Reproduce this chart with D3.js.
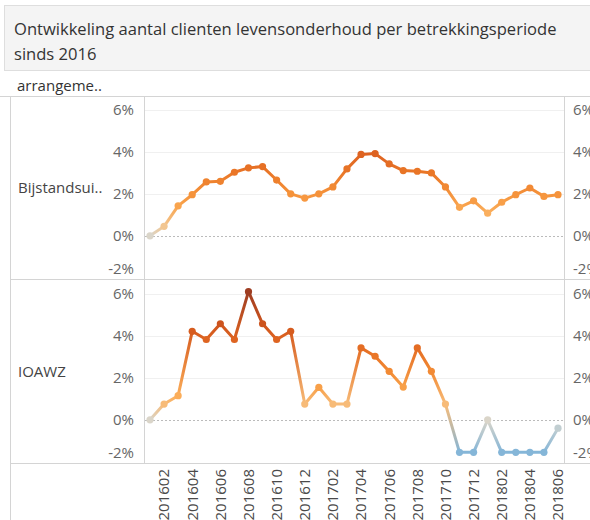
<!DOCTYPE html>
<html>
<head>
<meta charset="utf-8">
<script src="https://cdn.jsdelivr.net/npm/d3@7"></script>
<style>
  body { margin: 0; background: #fff; overflow: hidden; }
  svg { display: block; font-family: "Open Sans", sans-serif; }
</style>
</head>
<body>
<svg width="590" height="520"></svg>
<script>
// data (percent change per period)
var periods = ['201601','201602','201603','201604','201605','201606','201607','201608','201609','201610','201611','201612',
               '201701','201702','201703','201704','201705','201706','201707','201708','201709','201710','201711','201712',
               '201801','201802','201803','201804','201805','201806'];
var bijstand = [0, 0.45, 1.43, 1.96, 2.57, 2.6, 3.03, 3.24, 3.3, 2.66, 2.0, 1.8,
                2.0, 2.33, 3.19, 3.88, 3.92, 3.43, 3.11, 3.08, 3.0, 2.33, 1.36, 1.67,
                1.08, 1.6, 1.96, 2.28, 1.88, 1.96];
var ioawz = [0, 0.75, 1.15, 4.22, 3.83, 4.58, 3.83, 6.11, 4.58, 3.83, 4.22, 0.75,
             1.55, 0.75, 0.75, 3.43, 3.03, 2.31, 1.56, 3.43, 2.31, 0.75, -1.55, -1.55,
             0, -1.55, -1.55, -1.55, -1.55, -0.4];
var rowNames = ['Bijstandsui..', 'IOAWZ'];
var yTicks = [-2, 0, 2, 4, 6];
var xTickLabels = periods.filter(function(d, i){ return i % 2 == 1; });
var titleLines = ['Ontwikkeling aantal clienten levensonderhoud per betrekkingsperiode', 'sinds 2016'];
var colLabel = 'arrangeme..';

var svg = d3.select('svg');
var defs = svg.append('defs');
var lineCol = '#d4d4d4';

// title box
svg.append('rect').attr('x', 4.5).attr('y', 5.5).attr('width', 590).attr('height', 65)
  .attr('fill', '#f4f4f4').attr('stroke', '#dedede');
var title = svg.append('g');
title.selectAll('text').data(titleLines).enter().append('text')
  .attr('x', 14).attr('y', function(d, i){ return 35 + i * 25; })
  .attr('fill', '#333').style('font-size', '16px')
  .text(function(d){ return d; });
// fit the first line to the reference width
var w = title.select('text').node().getComputedTextLength();
title.selectAll('text').style('font-size', (16 * 543 / w) + 'px');

svg.append('text').attr('x', 17).attr('y', 91).attr('fill', '#333')
  .style('font-size', '15px').text(colLabel);

// colour: diverging orange-blue, centered at 0
var color = d3.scaleLinear()
  .domain([-6.11, -2, -1, 0, 0.5, 1.2, 2, 3, 4, 5, 6.11])
  .range(['#2b5c8a', '#72acd3', '#9cc3de', '#dad5c9', '#f5c48b', '#fbab55', '#f5923a', '#ea7727', '#dc6020', '#c24c1c', '#9e3d22']);

var x = d3.scalePoint().domain(periods).range([150, 558]);

var panels = [
  { name: rowNames[0], values: bijstand, top: 97, bottom: 279 },
  { name: rowNames[1], values: ioawz, top: 281, bottom: 463 }
];

panels.forEach(function(p, pi){
  var y = d3.scaleLinear().domain([-2.06, 6.62]).range([p.bottom, p.top]);
  var g = svg.append('g');

  // gridlines
  g.selectAll('.grid').data(yTicks.filter(function(t){ return t > 0; })).enter().append('line')
    .attr('x1', 145).attr('x2', 564)
    .attr('y1', function(d){ return Math.round(y(d)) + 0.5; })
    .attr('y2', function(d){ return Math.round(y(d)) + 0.5; })
    .attr('stroke', '#f0f0f0');
  g.append('line').attr('x1', 145).attr('x2', 564)
    .attr('y1', Math.round(y(0)) + 0.5).attr('y2', Math.round(y(0)) + 0.5)
    .attr('stroke', '#bbb').attr('stroke-dasharray', '2,2');

  // tick labels left and right
  [134, 573].forEach(function(tx, side){
    g.selectAll('.tick' + side).data(yTicks).enter().append('text')
      .attr('x', tx)
      .attr('y', function(d){ return Math.min(y(d), p.bottom - 10); })
      .attr('dy', '0.36em')
      .attr('text-anchor', side == 0 ? 'end' : 'start')
      .attr('fill', '#666').style('font-size', '15px')
      .text(function(d){ return d + '%'; });
  });

  // row header
  g.append('text').attr('x', 18).attr('y', (p.top + p.bottom) / 2).attr('dy', '0.36em')
    .attr('fill', '#444').style('font-size', '15px').text(p.name);

  // line segments with colour gradient between points
  var segs = d3.pairs(p.values.map(function(v, i){ return { v: v, x: x(periods[i]), y: y(v) }; }));
  segs.forEach(function(s, i){
    var id = 'grad' + pi + '_' + i;
    var gr = defs.append('linearGradient').attr('id', id).attr('gradientUnits', 'userSpaceOnUse')
      .attr('x1', s[0].x).attr('y1', s[0].y).attr('x2', s[1].x).attr('y2', s[1].y);
    gr.append('stop').attr('offset', 0).attr('stop-color', color(s[0].v));
    gr.append('stop').attr('offset', 1).attr('stop-color', color(s[1].v));
  });
  g.selectAll('.seg').data(segs).enter().append('line')
    .attr('x1', function(d){ return d[0].x; }).attr('y1', function(d){ return d[0].y; })
    .attr('x2', function(d){ return d[1].x; }).attr('y2', function(d){ return d[1].y; })
    .attr('stroke', function(d, i){ return 'url(#grad' + pi + '_' + i + ')'; })
    .attr('stroke-width', 3).attr('stroke-linecap', 'round');

  g.selectAll('circle').data(p.values).enter().append('circle')
    .attr('cx', function(d, i){ return x(periods[i]); })
    .attr('cy', function(d){ return y(d); })
    .attr('r', 3.6)
    .attr('fill', function(d){ return color(d); });

  // panel bottom line
  svg.append('line').attr('x1', 10).attr('x2', 590)
    .attr('y1', p.bottom + 0.5).attr('y2', p.bottom + 0.5).attr('stroke', lineCol);
});

// frame lines
svg.append('line').attr('x1', 0).attr('x2', 590).attr('y1', 96.5).attr('y2', 96.5).attr('stroke', lineCol);
svg.append('line').attr('x1', 10.5).attr('x2', 10.5).attr('y1', 97).attr('y2', 520).attr('stroke', lineCol);
svg.append('line').attr('x1', 144.5).attr('x2', 144.5).attr('y1', 97).attr('y2', 464).attr('stroke', lineCol);
svg.append('line').attr('x1', 564.5).attr('x2', 564.5).attr('y1', 97).attr('y2', 464).attr('stroke', lineCol);

// x axis labels, rotated
svg.append('g').selectAll('text').data(xTickLabels).enter().append('text')
  .attr('transform', function(d){ return 'translate(' + x(d) + ',469) rotate(-90)'; })
  .attr('dy', '0.36em').attr('text-anchor', 'end')
  .attr('fill', '#4a4a4a').style('font-size', '15px')
  .text(function(d){ return d; });
</script>
</body>
</html>
